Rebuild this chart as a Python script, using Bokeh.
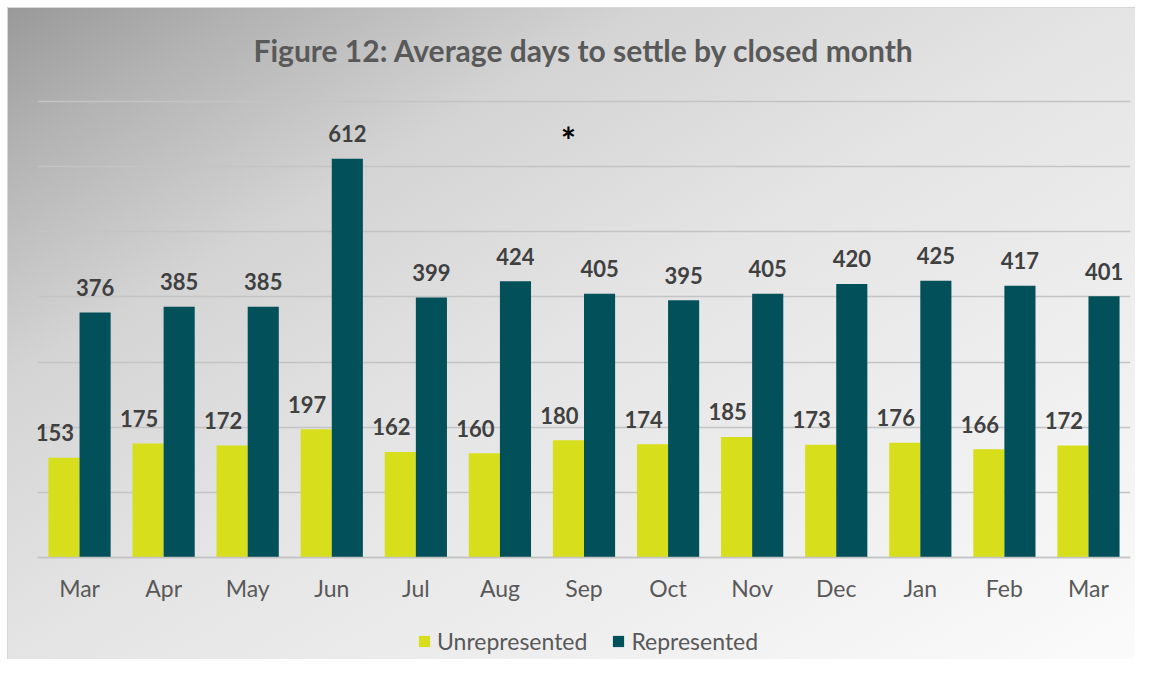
from bokeh.plotting import figure
from bokeh.models import Range1d, FixedTicker, Legend, LegendItem, ColumnDataSource
from bokeh.core.properties import value
from bokeh.embed import file_html
from bokeh.resources import INLINE

months = ["Mar", "Apr", "May", "Jun", "Jul", "Aug", "Sep", "Oct", "Nov", "Dec", "Jan", "Feb", "Mar"]
unrepresented = [153, 175, 172, 197, 162, 160, 180, 174, 185, 173, 176, 166, 172]
represented = [376, 385, 385, 612, 399, 424, 405, 395, 405, 420, 425, 417, 401]
y_ticks = [0, 100, 200, 300, 400, 500, 600, 700]
title_text = "Figure 12: Average days to settle by closed month"
note_month_index = 6  # "*" marker above Sep

FONT = "Lato"
C_UNREP = "#d7df1c"
C_REP = "#02515a"
BAR_W = 0.37

W, H = 1135, 659
FRAME_TOP = 99          # px
BASE_Y = 557            # px of the zero line
PX_PER_UNIT = (BASE_Y - 101) / y_ticks[-1]
y_end = y_ticks[-1] + (101 - FRAME_TOP) / PX_PER_UNIT
y_start = -(H - BASE_Y) / PX_PER_UNIT

centers = [i + 0.5 for i in range(len(months))]
src = ColumnDataSource(dict(
    x=centers,
    xu=[c - BAR_W / 2 for c in centers],
    xr=[c + BAR_W / 2 for c in centers],
    unrep=unrepresented,
    rep=represented,
    unrep_t=[str(v) for v in unrepresented],
    rep_t=[str(v) for v in represented],
))

p = figure(width=W, height=H, output_backend="svg", toolbar_location=None,
           x_range=Range1d(0, len(months)), y_range=Range1d(y_start, y_end),
           y_axis_location=None,
           min_border_left=37, min_border_right=5, min_border_top=FRAME_TOP, min_border_bottom=0)

p.background_fill_color = None
p.border_fill_color = None
p.outline_line_color = None
p.styles = {
    "background-color": "#ffffff",
    "background-image": "linear-gradient(to bottom right, #979797 0%, #b3b3b3 12%, #d4d4d4 29%, #e4e4e4 50%, #efefef 75%, #fbfbfb 100%)",
    "box-shadow": "inset 7px 7px 0 0 #ffffff, inset 8px 8px 0 0 #d6d6d6",
}

p.title.text = title_text
p.title.align = "center"
p.title.vertical_align = "top"
p.title.text_font = FONT
p.title.text_font_size = "30px"
p.title.text_font_style = "bold"
p.title.text_color = "#595959"
p.title.standoff = 60

p.ygrid.ticker = FixedTicker(ticks=y_ticks)
p.ygrid.grid_line_color = "#c4c4c4"
p.ygrid.grid_line_width = 1.5
p.xgrid.grid_line_color = None

p.xaxis.fixed_location = 0
p.xaxis.ticker = FixedTicker(ticks=centers)
p.xaxis.major_label_overrides = {c: m for c, m in zip(centers, months)}
p.xaxis.major_tick_line_color = None
p.xaxis.minor_tick_line_color = None
p.xaxis.axis_line_color = "#c4c4c4"
p.xaxis.axis_line_width = 1.5
p.xaxis.major_label_text_font = FONT
p.xaxis.major_label_text_font_size = "23px"
p.xaxis.major_label_text_color = "#595959"
p.xaxis.major_label_standoff = 10

r_u = p.vbar(x="xu", top="unrep", width=BAR_W, source=src, fill_color=C_UNREP, line_color=None)
r_r = p.vbar(x="xr", top="rep", width=BAR_W, source=src, fill_color=C_REP, line_color=None)

p.text(x="xu", y="unrep", text="unrep_t", source=src, x_offset=-9, y_offset=-25,
       text_align="center", text_baseline="alphabetic", text_font=value(FONT),
       text_font_size="22px", text_font_style="bold", text_color="#404040")
p.text(x="xr", y="rep", text="rep_t", source=src, y_offset=-25,
       text_align="center", text_baseline="alphabetic", text_font=value(FONT),
       text_font_size="22px", text_font_style="bold", text_color="#404040")

p.text(x=[centers[note_month_index] - BAR_W / 2], y=[y_ticks[-1]], text=["*"],
       y_offset=38, text_align="center", text_baseline="alphabetic",
       text_font=value(FONT), text_font_size="36px", text_font_style="bold", text_color="#000000")

legend = Legend(items=[LegendItem(label="Unrepresented", renderers=[r_u]),
                       LegendItem(label="Represented", renderers=[r_r])],
                orientation="horizontal", location=(380, 4),
                glyph_width=14, glyph_height=14, label_standoff=6, spacing=24,
                label_text_font=FONT, label_text_font_size="23px", label_text_color="#595959",
                background_fill_alpha=0, border_line_color=None, margin=0, padding=0)
p.add_layout(legend)

open("out.html", "w").write(file_html(p, INLINE))
